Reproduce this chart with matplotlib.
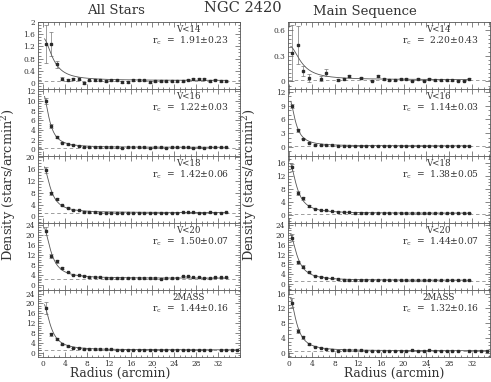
import numpy as np
import matplotlib
matplotlib.use('Agg')
import matplotlib.pyplot as plt
from matplotlib.ticker import MultipleLocator, FixedLocator, FuncFormatter

plt.rcParams['font.family'] = ['DejaVu Serif']
plt.rcParams['mathtext.fontset'] = 'dejavuserif'

# ---------------- data ----------------
RADII = [0.5, 1.5, 2.5, 3.5, 4.5, 5.5, 6.5, 7.5, 8.5, 9.5, 10.5, 11.5, 12.5,
         13.5, 14.5, 15.5, 16.5, 17.5, 18.5, 19.5, 20.5, 21.5, 22.5, 23.5,
         24.5, 25.5, 26.5, 27.5, 28.5, 29.5, 30.5, 31.5, 32.5, 33.5, 34.5, 35.5]

# All stars (left column)
all_v14_r = RADII[:34]
all_v14 = [1.28, 1.28, 0.61, 0.14, 0.09, 0.13, 0.14, 0.0, 0.08, 0.10, 0.08, 0.07,
           0.08, 0.08, 0.04, 0.04, 0.10, 0.10, 0.08, 0.04, 0.07, 0.07, 0.06, 0.06,
           0.06, 0.07, 0.11, 0.13, 0.14, 0.12, 0.06, 0.11, 0.06, 0.05]
all_v14_err = [0.63, 0.40, 0.12, 0.05, 0.04, 0.04, 0.04] + [0.03] * 27

all_v16_r = RADII[:34]
all_v16 = [10.0, 4.8, 2.6, 1.4, 1.0, 0.9, 0.7, 0.5, 0.5, 0.5, 0.4, 0.5, 0.4,
           0.4, 0.3, 0.4, 0.4, 0.4, 0.4, 0.3, 0.4, 0.4, 0.3, 0.4, 0.4, 0.4,
           0.4, 0.3, 0.4, 0.3, 0.5, 0.4, 0.4, 0.4]
all_v16_err = [0.6, 0.35, 0.2, 0.15] + [0.05] * 30

all_v18_r = RADII[:34]
all_v18 = [15.5, 7.8, 5.9, 3.7, 3.0, 2.2, 2.1, 1.6, 1.4, 1.4, 1.3, 1.3, 1.3,
           1.2, 1.3, 1.2, 1.2, 1.3, 1.2, 1.2, 1.3, 1.2, 1.2, 1.2, 1.3, 1.5,
           1.4, 1.4, 1.3, 1.2, 1.4, 1.3, 1.3, 1.4]
all_v18_err = [1.0, 0.5, 0.4, 0.3] + [0.1] * 30

all_v20_r = RADII[:34]
all_v20 = [21.5, 11.6, 9.5, 6.7, 5.1, 4.0, 4.0, 3.7, 3.1, 3.0, 3.0, 2.9, 2.8,
           2.7, 2.6, 2.8, 2.7, 2.6, 2.6, 2.7, 2.7, 2.5, 2.6, 2.6, 2.9, 3.5,
           3.6, 3.1, 3.0, 2.8, 2.6, 3.0, 3.1, 3.0]
all_v20_err = [1.5, 0.8, 0.6, 0.4] + [0.12] * 30

all_2m_r = RADII[:31] + RADII[32:36]
all_2m = [18.2, 7.4, 5.6, 3.4, 2.5, 1.9, 1.9, 1.5, 1.4, 1.3, 1.3, 1.3, 1.3,
          1.1, 1.1, 1.2, 1.1, 1.1, 1.2, 1.2, 1.1, 1.1, 1.1, 1.1, 1.2, 1.1,
          1.1, 1.1, 1.1, 1.1, 1.1, 1.0, 1.1, 1.1, 1.1]
all_2m_err = [2.5, 0.7, 0.5, 0.3] + [0.1] * 31

# Main sequence (right column)
ms_v14_r = [0.5, 1.5, 2.5, 3.5, 5.5, 6.5, 8.5, 9.5, 10.5, 12.5, 14.5, 15.5,
            16.5, 17.5, 18.5, 19.5, 20.5, 21.5, 22.5, 23.5, 24.5, 25.5, 26.5,
            27.5, 28.5, 29.5, 30.5, 31.5]
ms_v14 = [0.33, 0.43, 0.12, 0.04, 0.03, 0.10, 0.02, 0.03, 0.06, 0.04, 0.01,
          0.06, 0.03, 0.02, 0.02, 0.03, 0.03, 0.01, 0.03, 0.01, 0.03, 0.02,
          0.02, 0.02, 0.02, 0.01, 0.01, 0.03]
ms_v14_err = [0.33, 0.22, 0.06, 0.05, 0.03, 0.04] + [0.01] * 22

ms_v16_r = RADII[:32]
ms_v16 = [8.9, 3.6, 1.8, 0.9, 0.5, 0.4, 0.35, 0.3, 0.25, 0.25, 0.2, 0.2, 0.2,
          0.2, 0.15, 0.2, 0.2, 0.2, 0.15, 0.2, 0.2, 0.2, 0.15, 0.2, 0.2, 0.2,
          0.2, 0.2, 0.15, 0.2, 0.2, 0.2]
ms_v16_err = [0.5, 0.3, 0.2] + [0.05] * 29

ms_v18_r = RADII[:32]
ms_v18 = [14.5, 6.7, 5.0, 2.6, 1.9, 1.5, 1.5, 1.2, 1.0, 0.8, 0.8, 0.7, 0.7,
          0.6, 0.6, 0.6, 0.5, 0.5, 0.5, 0.5, 0.5, 0.5, 0.5, 0.5, 0.5, 0.5,
          0.5, 0.5, 0.5, 0.5, 0.5, 0.5]
ms_v18_err = [1.0, 0.5, 0.4, 0.3] + [0.08] * 28

ms_v20_r = RADII[:32]
ms_v20 = [19.0, 8.8, 7.1, 4.8, 3.4, 3.0, 2.6, 2.3, 1.9, 1.8, 1.7, 1.7, 1.6,
          1.6, 1.6, 1.6, 1.5, 1.6, 1.5, 1.6, 1.6, 1.5, 1.5, 1.6, 1.6, 1.5,
          1.5, 1.4, 1.5, 1.5, 1.4, 1.4]
ms_v20_err = [1.5, 0.7, 0.6, 0.4] + [0.1] * 28

ms_2m_r = RADII[:30] + RADII[31:35]
ms_2m = [13.6, 5.9, 4.2, 2.4, 1.6, 1.3, 1.0, 0.8, 0.5, 0.7, 0.7, 0.6, 0.6,
         0.5, 0.5, 0.5, 0.5, 0.5, 0.5, 0.5, 0.5, 0.6, 0.5, 0.5, 0.6, 0.5,
         0.5, 0.4, 0.5, 0.5, 0.5, 0.5, 0.5, 0.5]
ms_2m_err = [1.2, 0.5, 0.4, 0.3] + [0.08] * 30

# labels and King-profile fit parameters (r_c from the panel text)
mag_labels = ['V<14', 'V<16', 'V<18', 'V<20', '2MASS']
all_rc_text = ['1.91±0.23', '1.22±0.03', '1.42±0.06', '1.50±0.07', '1.44±0.16']
ms_rc_text = ['2.20±0.43', '1.14±0.03', '1.38±0.05', '1.44±0.07', '1.32±0.16']
all_rc = [1.91, 1.22, 1.42, 1.50, 1.44]
ms_rc = [2.20, 1.14, 1.38, 1.44, 1.32]
all_f0 = [1.4, 11.2, 16.0, 20.9, 19.2]
ms_f0 = [0.40, 10.4, 15.8, 19.6, 15.0]
all_bg = [0.08, 0.40, 1.30, 2.70, 1.10]
ms_bg = [0.02, 0.20, 0.50, 1.50, 0.50]
all_bg_line = [0.05, 0.35, 1.1, 2.3, 0.9]
ms_bg_line = [0.02, 0.10, 0.35, 1.2, 0.45]

all_ylim = [(-0.2, 2.0), (-1.4, 12.5), (-2.2, 20.3), (-2.0, 24.7), (-1.8, 25.5)]
ms_ylim = [(-0.09, 0.70), (-2.0, 12.6), (-2.5, 18.0), (-2.5, 25.0), (-1.2, 17.0)]
all_major = [0.4, 2, 4, 4, 4]
all_minor = [0.1, 0.5, 1, 1, 1]
ms_major = [0.3, 3, 4, 4, 4]
ms_minor = [0.05, 1, 1, 1, 1]
x_ticks = [0, 4, 8, 12, 16, 20, 24, 28, 32]

all_data = [(all_v14_r, all_v14, all_v14_err), (all_v16_r, all_v16, all_v16_err),
            (all_v18_r, all_v18, all_v18_err), (all_v20_r, all_v20, all_v20_err),
            (all_2m_r, all_2m, all_2m_err)]
ms_data = [(ms_v14_r, ms_v14, ms_v14_err), (ms_v16_r, ms_v16, ms_v16_err),
           (ms_v18_r, ms_v18, ms_v18_err), (ms_v20_r, ms_v20, ms_v20_err),
           (ms_2m_r, ms_2m, ms_2m_err)]

# ---------------- figure ----------------
W, H = 491, 382
fig = plt.figure(figsize=(W / 100, H / 100), dpi=100)
INK = '#2a2a2a'
FRAME = '#555555'
TXT = '#333333'

top_px, bot_px = 22, 357
row_h = (bot_px - top_px) / 5
cols = [(38, 240, all_data, all_ylim, all_major, all_minor, all_rc_text, all_rc, all_f0, all_bg, all_bg_line, (-0.9, 36.0)),
        (288, 490, ms_data, ms_ylim, ms_major, ms_minor, ms_rc_text, ms_rc, ms_f0, ms_bg, ms_bg_line, (-0.2, 35.1))]

fmt = FuncFormatter(lambda v, _: f'{v:g}')

for (x0, x1, data, ylims, majors, minors, rctext, rcs, f0s, bgs, bgl, xlim) in cols:
    for i in range(5):
        y_top = top_px + i * row_h
        ax = fig.add_axes([x0 / W, 1 - (y_top + row_h) / H, (x1 - x0) / W, row_h / H])
        r, v, e = data[i]
        ax.errorbar(r, v, yerr=e, fmt='s', ms=2.1, color=INK, ecolor='#666666',
                    elinewidth=0.45, capsize=1.1, capthick=0.45, zorder=3)
        rr = np.linspace(0.3, max(r), 300)
        ax.plot(rr, bgs[i] + f0s[i] / (1 + (rr / rcs[i]) ** 2), color='#555555', lw=0.6, zorder=2)
        ax.axhline(bgl[i], color='#777777', lw=0.5, ls=(0, (5, 4)), zorder=1)
        ax.set_xlim(*xlim)
        ax.set_ylim(*ylims[i])
        ax.xaxis.set_major_locator(FixedLocator(x_ticks))
        ax.xaxis.set_minor_locator(MultipleLocator(1))
        ax.yaxis.set_major_locator(MultipleLocator(majors[i]))
        ax.yaxis.set_minor_locator(MultipleLocator(minors[i]))
        ax.yaxis.set_major_formatter(fmt)
        ax.tick_params(which='both', direction='in', top=True, right=True,
                       colors=FRAME, labelcolor=TXT, width=0.5)
        ax.tick_params(which='major', length=3.5, labelsize=5.3, pad=2)
        ax.tick_params(which='minor', length=1.8)
        if i < 4:
            ax.tick_params(labelbottom=False)
        for s in ax.spines.values():
            s.set_color(FRAME)
            s.set_linewidth(0.6)
        ax.text(0.745, 0.89, mag_labels[i], transform=ax.transAxes, ha='center',
                va='center', fontsize=6.2, color=TXT)
        ax.text(0.945, 0.72, r'r$_{\rm c}$  =  ' + rctext[i], transform=ax.transAxes,
                ha='right', va='center', fontsize=6.6, color=TXT)

fig.text(116 / W, 1 - 11 / H, 'All Stars', ha='center', va='center', fontsize=9.5, color=TXT)
fig.text(243 / W, 1 - 8 / H, 'NGC 2420', ha='center', va='center', fontsize=10.5, color=TXT)
fig.text(365 / W, 1 - 11 / H, 'Main Sequence', ha='center', va='center', fontsize=9.5, color=TXT)
for xc in (9, 250):
    fig.text(xc / W, 1 - 184 / H, r'Density (stars/arcmin$^2$)', rotation=90,
             ha='center', va='center', fontsize=9.3, color=TXT)
fig.text(120 / W, 1 - 373 / H, 'Radius (arcmin)', ha='center', va='center', fontsize=8.8, color=TXT)
fig.text(394 / W, 1 - 373 / H, 'Radius (arcmin)', ha='center', va='center', fontsize=8.8, color=TXT)

fig.savefig('out.png', dpi=100)
